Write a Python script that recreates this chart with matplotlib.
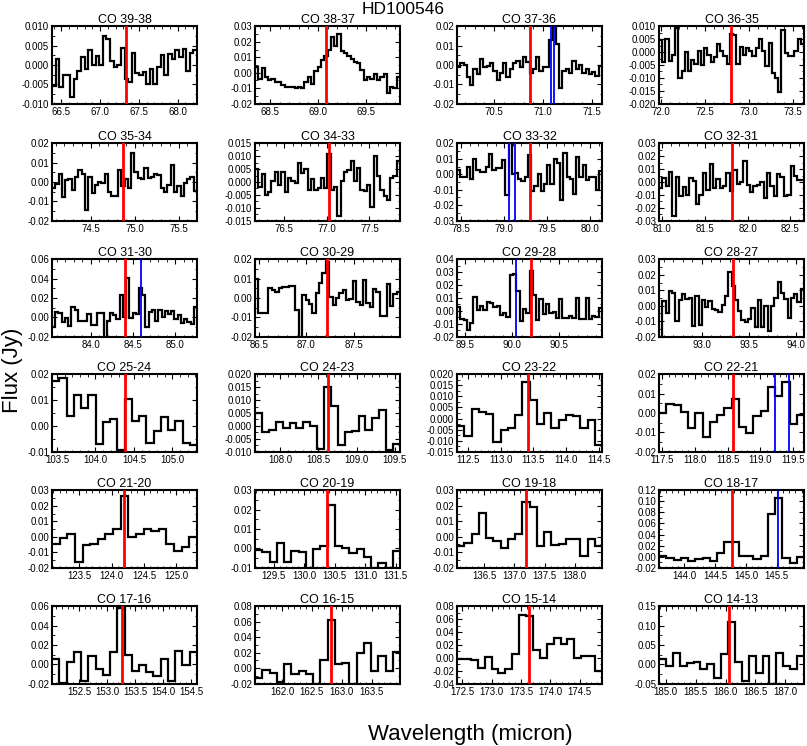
"""
HD100546 CO ladder, one panel per line.
"""
import numpy as np
import matplotlib
matplotlib.use('Agg')
import matplotlib.pyplot as plt
from matplotlib.ticker import MultipleLocator, FixedLocator, FormatStrFormatter, AutoMinorLocator

plt.rcParams['font.family'] = ['Liberation Sans', 'DejaVu Sans']

titles = ['CO 39-38', 'CO 38-37', 'CO 37-36', 'CO 36-35',
          'CO 35-34', 'CO 34-33', 'CO 33-32', 'CO 32-31',
          'CO 31-30', 'CO 30-29', 'CO 29-28', 'CO 28-27',
          'CO 25-24', 'CO 24-23', 'CO 23-22', 'CO 22-21',
          'CO 21-20', 'CO 20-19', 'CO 19-18', 'CO 18-17',
          'CO 17-16', 'CO 16-15', 'CO 15-14', 'CO 14-13']

# flux (Jy) per spectral bin
flux_co39 = [-0.0055, 0.0015, -0.0058, -0.0027, -0.0027, -0.0082, -0.0035, -0.0015, 0.0020, -0.0010,
             0.0040, 0.0000, 0.0023, 0.0000, 0.0075, 0.0068, 0.0010, -0.0005, 0.0000, 0.0045,
             -0.0035, -0.0045, 0.0030, -0.0020, -0.0025, -0.0018, -0.0048, -0.0010, -0.0050, -0.0005,
             0.0025, -0.0025, 0.0028, 0.0015, 0.0040, 0.0020, 0.0042, -0.0015, 0.0030, 0.0040]
flux_co38 = [0.004, -0.004, 0.003, -0.003, -0.005, -0.004, -0.006, -0.006, -0.008, -0.009,
             -0.0095, -0.009, -0.010, -0.0095, -0.010, -0.006, -0.003, -0.007, 0.001, 0.004,
             0.008, 0.011, 0.015, 0.023, 0.017, 0.025, 0.014, 0.013, 0.011, 0.009,
             0.007, 0.006, 0.002, -0.005, -0.003, -0.004, -0.001, -0.005, -0.003, -0.001,
             -0.013, -0.009, -0.010, -0.003]
flux_co37 = [-0.001, 0.001, 0.000, -0.006, -0.0105, -0.002, -0.0045, 0.003, -0.001, -0.0005,
             0.001, -0.003, -0.0075, -0.004, 0.001, -0.006, -0.002, 0.001, 0.002, -0.001,
             0.004, 0.0015, -0.004, -0.002, 0.004, -0.003, -0.001, -0.001, 0.013, 0.019,
             0.011, -0.012, -0.003, -0.002, -0.004, 0.002, -0.002, 0.000, -0.004, -0.002,
             -0.0045, -0.0035, -0.0055, -0.0005]
flux_co36 = [0.0045, -0.0040, 0.0050, -0.0035, -0.0010, 0.0095, -0.0100, -0.0075, 0.0000, -0.0075,
             -0.0030, -0.0045, 0.0005, -0.0050, 0.0015, -0.0010, -0.0040, -0.0020, 0.0030, 0.0005,
             -0.0015, -0.0045, 0.0070, 0.0068, -0.0045, 0.0020, -0.0010, 0.0015, 0.0005, -0.0015,
             0.0015, 0.0050, 0.0005, -0.0055, 0.0035, -0.0080, -0.0100, -0.0155, 0.0085, -0.0005,
             -0.0015, -0.0015, 0.0005, 0.0050, 0.0030]
flux_co35 = [-0.003, -0.001, 0.004, -0.0075, 0.001, 0.0015, -0.004, 0.0025, 0.006, 0.004,
             -0.0145, 0.0025, -0.0055, -0.0015, 0.000, -0.0005, 0.004, -0.005, -0.007, -0.007,
             0.006, -0.002, 0.0015, -0.003, 0.015, 0.005, 0.002, 0.0015, 0.007, 0.002,
             0.0025, 0.004, 0.0035, -0.003, -0.005, -0.0015, 0.009, -0.005, -0.002, -0.007,
             -0.0005, 0.0015, 0.0025, -0.0045]
flux_co34 = [0.005, -0.002, 0.003, -0.005, -0.004, 0.0005, 0.004, -0.001, 0.004, -0.004,
             0.0015, 0.0005, -0.0005, 0.0075, 0.0035, 0.005, -0.003, 0.001, -0.003, -0.0025,
             0.0015, -0.0025, 0.011, -0.003, -0.002, -0.013, 0.0005, 0.004, 0.0045, 0.008,
             0.0005, 0.0055, -0.003, -0.0035, -0.001, -0.0095, 0.010, 0.0025, -0.003, -0.0055,
             -0.0068, 0.0015, 0.0025, 0.008]
flux_co33 = [0.003, -0.002, -0.002, 0.005, -0.003, 0.010, 0.003, 0.0015, 0.0015, 0.005,
             0.013, 0.0025, 0.004, 0.004, 0.0095, -0.0135, 0.021, 0.000, 0.001, -0.003,
             -0.0045, -0.002, 0.0125, -0.011, -0.0075, 0.000, -0.011, -0.006, 0.006, -0.006,
             0.010, 0.0075, -0.0165, 0.014, -0.0015, -0.003, -0.013, 0.011, -0.002, 0.006,
             -0.004, -0.0015, -0.002, -0.010, 0.002]
flux_co32 = [-0.005, 0.003, -0.003, 0.0075, -0.026, 0.004, -0.011, -0.004, -0.010, 0.003,
             0.001, -0.017, -0.010, 0.007, -0.006, 0.014, -0.005, 0.0025, -0.005, -0.003,
             0.007, -0.007, 0.0095, -0.0015, 0.000, 0.016, -0.002, -0.008, -0.003, -0.002,
             0.000, -0.0125, 0.007, -0.003, -0.011, 0.006, 0.004, -0.011, -0.010, 0.0125,
             0.005, 0.0015, 0.0015]
flux_co31 = [-0.010, 0.006, 0.004, -0.005, -0.001, -0.009, 0.011, 0.008, -0.004, -0.004,
             -0.0035, 0.003, -0.0075, -0.008, 0.005, 0.004, -0.022, -0.0035, 0.004, 0.0025,
             -0.002, 0.023, 0.000, 0.041, -0.001, 0.005, 0.003, 0.030, 0.023, -0.010,
             0.006, 0.0075, -0.004, 0.008, 0.0005, 0.007, 0.003, 0.0065, -0.002, 0.002,
             -0.006, -0.002, -0.005, -0.007, 0.011]
flux_co30 = [0.010, -0.0075, -0.008, -0.008, 0.005, 0.004, 0.003, 0.005, 0.0055, 0.0055,
             0.006, 0.006, -0.006, -0.022, 0.0015, -0.001, -0.003, -0.0075, 0.0025, 0.0075,
             0.013, 0.0185, 0.0005, -0.0035, 0.000, 0.0025, 0.004, -0.001, -0.0005, 0.009,
             -0.002, -0.0035, 0.0095, -0.0025, -0.0045, 0.0045, 0.003, -0.0095, -0.0095, 0.007,
             -0.004, 0.002, 0.003]
flux_co29 = [0.003, -0.006, -0.007, -0.015, -0.009, 0.011, 0.0005, 0.004, 0.001, 0.007,
             0.006, 0.003, 0.004, -0.0035, -0.002, -0.005, 0.0275, 0.0285, 0.0155, -0.008,
             0.0015, -0.002, 0.031, 0.0125, -0.007, 0.0095, -0.0025, 0.005, -0.002, -0.0005,
             -0.0055, 0.009, -0.0055, -0.0055, -0.004, -0.0055, 0.010, -0.006, -0.006, 0.010,
             -0.006, -0.004, -0.0045, 0.002]
flux_co28 = [-0.020, 0.003, -0.005, 0.0095, 0.0085, -0.010, 0.004, 0.0075, 0.0045, 0.005,
             -0.013, 0.0065, -0.0125, 0.0035, -0.001, 0.003, -0.002, -0.0025, -0.004, 0.0005,
             0.0065, 0.0215, 0.0125, 0.004, -0.0035, -0.009, -0.0105, -0.0085, -0.0015, -0.014,
             0.004, -0.014, 0.000, -0.016, 0.000, 0.005, 0.0155, 0.0085, 0.0045, -0.008,
             0.005, 0.0075, 0.0025, 0.011]
flux_co25 = [0.0175, 0.0185, 0.004, 0.012, 0.007, 0.012, -0.0072, 0.0015, 0.0027, -0.0095,
             0.0105, 0.002, 0.004, -0.0065, -0.002, 0.0035, -0.0015, 0.002, -0.0065, -0.0075]
flux_co24 = [0.005, -0.0025, -0.0015, 0.0015, -0.001, 0.001, -0.001, 0.0015, 0.0, -0.009,
             0.015, 0.0078, -0.0075, -0.0025, -0.002, 0.004, -0.0015, 0.003, 0.006, -0.0095,
             -0.007]
flux_co23 = [-0.0035, -0.008, 0.0045, 0.003, 0.002, -0.0105, -0.005, -0.0045, 0.0015, 0.0165,
             0.0085, -0.0025, 0.0025, -0.0045, -0.0005, 0.0015, 0.0012, -0.0045, -0.0005, -0.012]
flux_co22 = [0.0, 0.0045, 0.004, 0.0005, -0.008, 0.0, -0.0125, -0.0045, -0.001, 0.0025,
             0.007, -0.007, -0.0105, -0.0015, 0.001, 0.0135, 0.009, 0.016, -0.0055, -0.001]
flux_co21 = [-0.005, -0.001, 0.0015, -0.016, -0.0055, -0.0045, -0.0015, 0.002, 0.005, 0.0265,
             0.0, 0.002, 0.005, 0.004, 0.005, -0.0045, -0.0095, -0.0065, 0.0]
flux_co20 = [-0.001, -0.002, -0.007, 0.003, -0.007, -0.0015, -0.002, -0.010, -0.0005, 0.001,
             0.0225, 0.001, 0.0, -0.0025, -0.0005, -0.0045, -0.010, -0.0075, -0.010, -0.0015]
flux_co19 = [-0.006, -0.004, 0.002, 0.0155, -0.001, -0.003, -0.0075, -0.0015, 0.0015, 0.0225,
             0.0195, -0.006, 0.003, -0.0055, -0.005, -0.0015, -0.0015, -0.0125, -0.0015, -0.006]
flux_co18 = [0.001, -0.003, -0.006, -0.003, -0.008, -0.005, -0.002, -0.008, 0.007, 0.027,
             0.027, 0.002, 0.002, -0.004, 0.002, 0.078, 0.106, -0.002, -0.012, 0.0]
flux_co17 = [0.006, -0.019, 0.002, 0.0125, -0.017, 0.009, -0.0045, -0.0105, 0.0125, 0.058,
             0.010, -0.0065, -0.0005, -0.008, -0.012, 0.006, -0.0175, 0.014, -0.0005, 0.013]
flux_co16 = [-0.013, -0.002, -0.006, -0.018, 0.005, -0.007, -0.004, -0.008, -0.021, 0.010,
             0.062, 0.005, 0.007, -0.020, 0.020, 0.033, -0.004, 0.016, -0.004, 0.021]
flux_co15 = [-0.001, -0.002, -0.003, -0.016, 0.001, -0.017, -0.024, -0.017, 0.0065, 0.067,
             0.065, 0.013, 0.0, 0.022, 0.031, 0.022, 0.030, 0.0, 0.003, 0.003, -0.021]
flux_co14 = [0.015, -0.005, 0.030, -0.005, 0.003, 0.005, -0.012, 0.0, -0.035, 0.028,
             0.109, 0.005, -0.042, 0.022, -0.022, 0.022, -0.052, 0.030, -0.005, -0.012, 0.022]

fluxes = [flux_co39, flux_co38, flux_co37, flux_co36,
          flux_co35, flux_co34, flux_co33, flux_co32,
          flux_co31, flux_co30, flux_co29, flux_co28,
          flux_co25, flux_co24, flux_co23, flux_co22,
          flux_co21, flux_co20, flux_co19, flux_co18,
          flux_co17, flux_co16, flux_co15, flux_co14]

# wavelength range covered by each spectrum (micron)
wave_ranges = [(66.38, 68.25), (68.345, 69.85), (70.12, 71.60), (71.977, 73.626),
               (74.06, 75.71), (76.155, 77.86), (78.45, 80.14), (80.96, 82.66),
               (83.54, 85.26), (86.46, 87.99), (89.41, 90.96), (92.55, 94.085),
               (103.435, 105.32), (107.67, 109.57), (112.33, 114.55), (117.45, 119.67),
               (123.08, 125.32), (129.19, 131.57), (136.05, 138.45), (143.59, 145.94),
               (152.02, 154.60), (161.55, 163.97), (172.41, 174.88), (184.89, 187.31)]

co_lines = [67.33, 69.08, 70.86, 72.80, 74.87, 77.03, 79.30, 81.81,
            84.40, 87.22, 90.20, 93.33, 104.39, 108.63, 113.42, 118.58,
            124.19, 130.37, 137.20, 144.78, 153.27, 162.82, 173.63, 186.05]

# other species in the band (OH, [OI])
other_lines = [[], [], [71.08, 71.11], [],
               [], [], [79.06, 79.13], [],
               [84.59], [], [90.04], [],
               [], [], [], [119.23, 119.44],
               [], [], [], [145.525],
               [], [], [], []]

y_ticks = [[-0.010, -0.005, 0.0, 0.005, 0.010],
           [-0.02, -0.01, 0.0, 0.01, 0.02, 0.03],
           [-0.02, -0.01, 0.0, 0.01, 0.02],
           [-0.020, -0.015, -0.010, -0.005, 0.0, 0.005, 0.010],
           [-0.02, -0.01, 0.0, 0.01, 0.02],
           [-0.015, -0.010, -0.005, 0.0, 0.005, 0.010, 0.015],
           [-0.03, -0.02, -0.01, 0.0, 0.01, 0.02],
           [-0.03, -0.02, -0.01, 0.0, 0.01, 0.02, 0.03],
           [-0.02, 0.0, 0.02, 0.04, 0.06],
           [-0.02, -0.01, 0.0, 0.01, 0.02],
           [-0.02, -0.01, 0.0, 0.01, 0.02, 0.03, 0.04],
           [-0.02, -0.01, 0.0, 0.01, 0.02, 0.03],
           [-0.01, 0.0, 0.01, 0.02],
           [-0.010, -0.005, 0.0, 0.005, 0.010, 0.015, 0.020],
           [-0.015, -0.010, -0.005, 0.0, 0.005, 0.010, 0.015, 0.020],
           [-0.02, -0.01, 0.0, 0.01, 0.02],
           [-0.02, -0.01, 0.0, 0.01, 0.02, 0.03],
           [-0.01, 0.0, 0.01, 0.02, 0.03],
           [-0.02, -0.01, 0.0, 0.01, 0.02, 0.03],
           [-0.02, 0.0, 0.02, 0.04, 0.06, 0.08, 0.10, 0.12],
           [-0.02, 0.0, 0.02, 0.04, 0.06],
           [-0.02, 0.0, 0.02, 0.04, 0.06, 0.08],
           [-0.04, -0.02, 0.0, 0.02, 0.04, 0.06, 0.08],
           [-0.05, 0.0, 0.05, 0.10, 0.15]]

W, H = 807.0, 746.0
col_left = [52, 255, 457, 659]
row_top = [26, 143, 259, 374, 490, 606]
ax_w, ax_h = 145, 78

fig = plt.figure(figsize=(W / 100, H / 100), dpi=100)

for i in range(24):
    r, c = divmod(i, 4)
    ax = fig.add_axes([col_left[c] / W, 1 - (row_top[r] + ax_h) / H, ax_w / W, ax_h / H])
    x0, x1 = wave_ranges[i]
    edges = np.linspace(x0, x1, len(fluxes[i]) + 1)
    ax.stairs(fluxes[i], edges, color='black', lw=1.6, baseline=None, zorder=2)
    ax.axvline(co_lines[i], color='red', lw=2.0, zorder=3)
    for w in other_lines[i]:
        ax.axvline(w, color='blue', lw=1.3, zorder=3)

    yt = y_ticks[i]
    ax.set_xlim(x0, x1)
    pad = (yt[-1] - yt[0]) * 0.004
    ax.set_ylim(yt[0] - pad, yt[-1] + pad)
    ax.yaxis.set_major_locator(FixedLocator(yt))
    step = yt[1] - yt[0]
    ax.yaxis.set_major_formatter(FormatStrFormatter('%.3f' if step < 0.0099 else '%.2f'))
    ax.yaxis.set_minor_locator(AutoMinorLocator(2))
    ax.xaxis.set_major_locator(MultipleLocator(0.5))
    ax.xaxis.set_major_formatter(FormatStrFormatter('%.1f'))
    ax.xaxis.set_minor_locator(MultipleLocator(0.1))
    ax.tick_params(which='both', direction='in', top=True, right=True, labelsize=7, pad=2)
    ax.tick_params(which='major', length=3.5, width=0.8)
    ax.tick_params(which='minor', length=1.8, width=0.6)
    for s in ax.spines.values():
        s.set_linewidth(1.5)
    ax.set_title(titles[i], fontsize=9, pad=2)

fig.text(0.5, 0.987, 'HD100546', ha='center', va='center', fontsize=12.5)
fig.text(0.583, 0.015, 'Wavelength (micron)', ha='center', va='center', fontsize=16)
fig.text(0.016, 0.503, 'Flux (Jy)', ha='center', va='center', rotation=90, fontsize=16)

fig.savefig('out.png', dpi=100)
